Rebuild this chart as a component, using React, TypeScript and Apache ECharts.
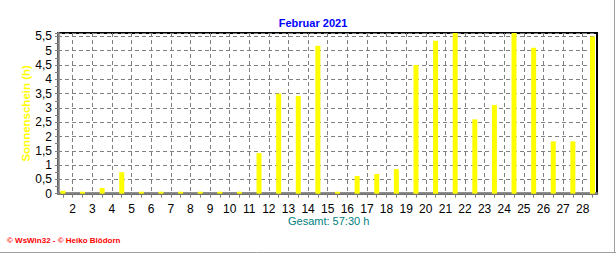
import React, { useEffect, useRef } from "react";
import * as echarts from "echarts";

const title = "Februar 2021";
const yAxisName = "Sonnenschein (h)";
const totalLabel = "Gesamt: 57:30 h";
const footer = "© WsWin32 - © Heiko Blödorn";

const days = [
  1, 2, 3, 4, 5, 6, 7, 8, 9, 10, 11, 12, 13, 14,
  15, 16, 17, 18, 19, 20, 21, 22, 23, 24, 25, 26, 27, 28,
];
const sunshineHours = [
  0.1, 0, 0.2, 0.75, 0, 0, 0, 0, 0, 0, 1.42, 3.5, 3.42, 5.17,
  0, 0.62, 0.69, 0.86, 4.5, 5.35, 5.62, 2.6, 3.1, 5.62, 5.1, 1.83, 1.83, 5.5,
];
const xTickLabels = [
  2, 3, 4, 5, 6, 7, 8, 9, 10, 11, 12, 13, 14, 15, 16, 17, 18, 19, 20, 21, 22,
  23, 24, 25, 26, 27, 28,
];
const xMinorTicks = [
  1.5, 2, 2.5, 3, 3.5, 4, 4.5, 5, 5.5, 6, 6.5, 7, 7.5, 8, 8.5, 9, 9.5, 10,
  10.5, 11, 11.5, 12, 12.5, 13, 13.5, 14, 14.5, 15, 15.5, 16, 16.5, 17, 17.5,
  18, 18.5, 19, 19.5, 20, 20.5, 21, 21.5, 22, 22.5, 23, 23.5, 24, 24.5, 25,
  25.5, 26, 26.5, 27, 27.5, 28, 28.5,
];

export default function App() {
  const ref = useRef<HTMLDivElement>(null);
  useEffect(() => {
    if (!ref.current) return;
    const chart = echarts.init(ref.current, null, { renderer: "svg" });
    const font = "Arial, 'Liberation Sans', sans-serif";
    const xMin = 1.25;
    const xMax = 28.73;
    chart.setOption({
      animation: false,
      backgroundColor: "#ffffff",
      textStyle: { fontFamily: font },
      title: {
        text: title,
        left: 308,
        top: 12,
        textAlign: "center",
        textStyle: { color: "#0000ff", fontSize: 11, fontWeight: "bold", fontFamily: font },
      },
      grid: {
        left: 58,
        right: 19,
        top: 33,
        bottom: 59.3,
        show: true,
        borderColor: "#000000",
        borderWidth: 2,
        backgroundColor: "transparent",
      },
      xAxis: [
        {
          type: "value",
          min: xMin,
          max: xMax,
          position: "bottom",
          axisLine: { show: true, onZero: false, lineStyle: { color: "#808080", width: 2.5 } },
          axisTick: { show: false, customValues: xTickLabels },
          axisLabel: {
            customValues: xTickLabels,
            color: "#000000",
            fontSize: 12,
            margin: 9,
            fontFamily: font,
          },
          splitLine: {
            show: true,
            lineStyle: { color: "#808080", type: [4, 3], width: 1 },
          },
        },
        {
          type: "value",
          min: xMin,
          max: xMax,
          position: "bottom",
          axisLine: { show: false },
          axisTick: {
            show: true,
            customValues: xMinorTicks,
            length: 4,
            lineStyle: { color: "#808080", width: 1 },
          },
          axisLabel: { show: false },
          splitLine: { show: false },
        },
      ],
      yAxis: {
        type: "value",
        min: 0,
        max: 5.62,
        interval: 0.5,
        name: yAxisName,
        nameLocation: "middle",
        nameGap: 26,
        nameRotate: 90,
        nameMoveOverlap: false,
        nameTextStyle: { color: "#ffff00", fontSize: 11.5, fontWeight: "bold", fontFamily: font },
        axisLine: { show: true, lineStyle: { color: "#808080", width: 2.5 } },
        axisTick: { show: true, length: 3, lineStyle: { color: "#808080" } },
        minorTick: { show: true, splitNumber: 2, length: 3, lineStyle: { color: "#808080" } },
        axisLabel: {
          color: "#000000",
          fontSize: 12,
          margin: 6,
          fontFamily: font,
          formatter: (v: number) => {
            const r = Math.round(v * 2) / 2;
            if (Math.abs(r - v) > 1e-6) return "";
            return String(r).replace(".", ",");
          },
        },
        splitLine: {
          show: true,
          lineStyle: { color: "#808080", type: [4, 3], width: 1 },
        },
      },
      series: [
        {
          type: "bar",
          xAxisIndex: 0,
          data: days.map((d, i) => [d + 0.5, sunshineHours[i]]),
          barWidth: 5,
          barMinHeight: 2,
          itemStyle: { color: "#ffff00" },
          clip: true,
        },
      ],
      graphic: [
        {
          type: "text",
          left: 288,
          top: 215,
          style: { text: totalLabel, fill: "#008080", fontSize: 11, fontFamily: font },
        },
        {
          type: "text",
          left: 7,
          top: 236,
          style: {
            text: footer,
            fill: "#ff0000",
            fontSize: 8,
            fontWeight: "bold",
            fontFamily: font,
          },
        },
        {
          type: "line",
          shape: { x1: 614.5, y1: 0, x2: 614.5, y2: 253 },
          style: { stroke: "#a0a0a0", lineWidth: 1 },
        },
        {
          type: "line",
          shape: { x1: 0, y1: 252.5, x2: 616, y2: 252.5 },
          style: { stroke: "#a0a0a0", lineWidth: 1 },
        },
      ],
    });
    return () => chart.dispose();
  }, []);
  return (
    <div
      ref={ref}
      style={{ position: "absolute", left: 0, top: 0, width: 616, height: 253 }}
    />
  );
}
